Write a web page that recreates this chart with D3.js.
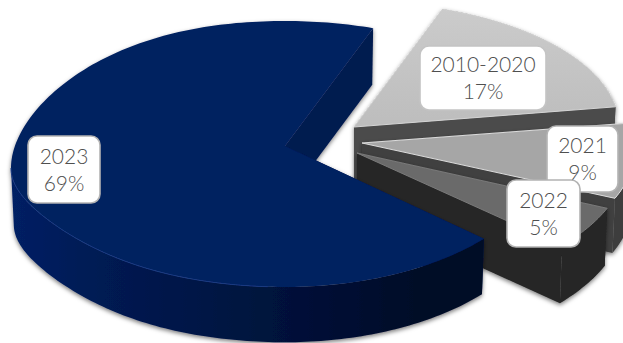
<!DOCTYPE html>
<html>
<head>
<meta charset="utf-8">
<script src="https://cdn.jsdelivr.net/npm/d3@7"></script>
<style>
  html, body { margin: 0; padding: 0; background: #fff; }
  svg { display: block; }
  text { font-family: Lato, "Open Sans", sans-serif; font-weight: 300; font-size: 21px; fill: #4f4f4f; }
</style>
</head>
<body>
<svg id="chart" width="623" height="343"></svg>
<script>
// Share of records by period
const categories = ["2010-2020", "2021", "2022", "2023"];
const shares = [17, 9, 5, 69];

// Layout of the tilted, exploded pie
const firstSliceAngle = 19.5 * Math.PI / 180;
const sliceDepth = [55, 55, 58, 56];
const radiusBack = 125, radiusFront = 141, radiusLeft = 274;
const leftDrop = 22, leftFrontPinch = 40;
const sliceApex = [[354, 127], [362, 143], [357, 153], [285, 146]];
const sliceRadiusRight = [265, 275, 272, 264];
const labelCentre = [[483, 78], [582.5, 159], [543.5, 213.5], [64, 169.5]];
const boxSize = [[126, 64], [71, 66], [73, 67], [72, 67]];

// Per-slice paint: top face, radial walls, outer wall, edge line
const topColour = ["url(#topA)", "#a6a6a6", "#6a6a6a", "#002060"];
const wallColour = ["#4b4b4b", "#414141", "#262626", "#011a4f"];
const rimColour = ["#4b4b4b", "#3e3e3e", "#262626", "url(#blueWall)"];
const edgeColour = ["#d4d4d4", "#dcdcdc", "#7a7a7a", "none"];

const svg = d3.select("#chart");
const defs = svg.append("defs");

const topA = defs.append("linearGradient").attr("id", "topA")
  .attr("x1", 0).attr("x2", 0).attr("y1", 0).attr("y2", 1);
topA.append("stop").attr("offset", 0).attr("stop-color", "#cbcbcb");
topA.append("stop").attr("offset", 1).attr("stop-color", "#bdbdbd");

const blueWall = defs.append("linearGradient").attr("id", "blueWall")
  .attr("gradientUnits", "userSpaceOnUse")
  .attr("x1", 10).attr("x2", 485).attr("y1", 0).attr("y2", 0);
[[0, "#012064"], [0.2, "#011a52"], [0.55, "#00123c"], [0.85, "#000a28"], [1, "#000a28"]].forEach(([o, c]) =>
  blueWall.append("stop").attr("offset", o).attr("stop-color", c));

const shadow = defs.append("filter").attr("id", "soft")
  .attr("filterUnits", "userSpaceOnUse")
  .attr("x", -20).attr("y", -20).attr("width", 680).attr("height", 400);
shadow.append("feDropShadow")
  .attr("dx", 0).attr("dy", 2).attr("stdDeviation", 2.2)
  .attr("flood-color", "#000").attr("flood-opacity", 0.5);

const arcs = d3.pie().sort(null)
  .startAngle(firstSliceAngle)
  .endAngle(firstSliceAngle + 2 * Math.PI)(shares);

const line = d3.line();

// Projects a polar position of slice i on to its upper face
function upper(i, angle) {
  const [ax, ay] = sliceApex[i];
  const s = Math.sin(angle), c = Math.cos(angle);
  if (s >= 0) {
    return [ax + s * sliceRadiusRight[i], ay - c * (c >= 0 ? radiusBack : radiusFront)];
  }
  // The far left of the disc sits lower and its front edge is flatter
  const drop = leftDrop * Math.pow(-s, 3);
  const front = radiusFront - leftFrontPinch * Math.pow(s, 4);
  return [ax + s * radiusLeft, ay + drop - c * (c >= 0 ? radiusBack : front)];
}

// The lower face sits one depth down and very slightly smaller
function lower(i, p) {
  const [ax, ay] = sliceApex[i];
  return [ax + (p[0] - ax) * 0.99, ay + sliceDepth[i] + (p[1] - ay) * 0.995];
}

function sampleArc(i, a0, a1) {
  const n = Math.max(2, Math.ceil((a1 - a0) / 0.02));
  return d3.range(n + 1).map(k => upper(i, a0 + (a1 - a0) * k / n));
}

function radialWall(g, i, p) {
  g.append("path")
    .attr("d", line([sliceApex[i], p, lower(i, p), lower(i, sliceApex[i])]) + "Z")
    .attr("fill", wallColour[i]);
}

arcs.forEach((d, i) => {
  const g = svg.append("g").attr("filter", "url(#soft)");
  const rim = sampleArc(i, d.startAngle, d.endAngle);

  // Painted back to front: start wall, outer wall up to the far left, end wall, top
  radialWall(g, i, rim[0]);
  const outer = sampleArc(i, d.startAngle, Math.min(d.endAngle, Math.PI * 1.5));
  g.append("path")
    .attr("d", line(outer.concat(outer.map(p => lower(i, p)).reverse())) + "Z")
    .attr("fill", rimColour[i]);
  radialWall(g, i, rim[rim.length - 1]);
  g.append("path")
    .attr("d", line([sliceApex[i]].concat(rim)) + "Z")
    .attr("fill", topColour[i])
    .attr("stroke", edgeColour[i])
    .attr("stroke-width", 1)
    .attr("stroke-linejoin", "round");

  // Bevel highlight along the front of the large slice
  if (i === 3) {
    g.append("path")
      .attr("d", line(sampleArc(i, Math.PI * 1.02, Math.PI * 1.5)))
      .attr("fill", "none")
      .attr("stroke", "#1a3a82")
      .attr("stroke-width", 1);
  }
});

// Rounded callouts with category and share
[0, 1, 3, 2].forEach(i => {
  const [cx, cy] = labelCentre[i];
  const [w, h] = boxSize[i];
  const g = svg.append("g").attr("transform", `translate(${cx},${cy})`);
  g.append("rect")
    .attr("x", -w / 2).attr("y", -h / 2)
    .attr("width", w).attr("height", h)
    .attr("rx", 9).attr("ry", 9)
    .attr("fill", "#fff")
    .attr("stroke", i === 0 ? "#c4c4c4" : "#b3b3b3")
    .attr("stroke-width", 1.6);
  g.append("text").attr("text-anchor", "middle").attr("y", -6).text(categories[i]);
  g.append("text").attr("text-anchor", "middle").attr("y", 21).text(shares[i] + "%");
});
</script>
</body>
</html>
